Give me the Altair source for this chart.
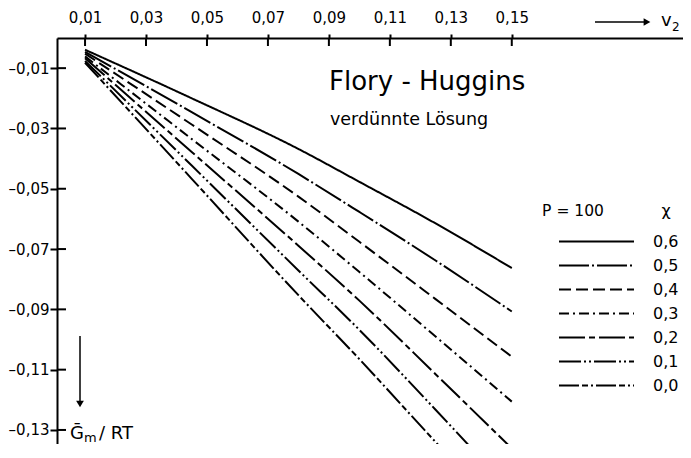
import altair as alt
import pandas as pd

# ---- data ----
v2 = [0.01, 0.045, 0.08, 0.10, 0.125, 0.15]
chi_labels = ["0,6", "0,5", "0,4", "0,3", "0,2", "0,1", "0,0"]
g_06 = [-0.0039, -0.0200, -0.0368, -0.0477, -0.0615, -0.0763]
g_05 = [-0.0046, -0.0246, -0.0451, -0.0577, -0.0738, -0.0907]
g_04 = [-0.0052, -0.0287, -0.0526, -0.0676, -0.0866, -0.1057]
g_03 = [-0.0061, -0.0335, -0.0609, -0.0776, -0.0990, -0.1206]
g_02 = [-0.0067, -0.0378, -0.0689, -0.0871, -0.1115, -0.1361]
g_01 = [-0.0076, -0.0423, -0.0771, -0.0968, -0.1233, -0.1505]
g_00 = [-0.0082, -0.0467, -0.0853, -0.1065, -0.1340, -0.1610]
x_ticks = [0.01, 0.03, 0.05, 0.07, 0.09, 0.11, 0.13, 0.15]
y_ticks = [-0.01, -0.03, -0.05, -0.07, -0.09, -0.11, -0.13]

series = [g_06, g_05, g_04, g_03, g_02, g_01, g_00]
dashes = [[1, 0], [30, 3, 2, 3], [12, 5], [10, 4, 2, 4], [26, 4, 6, 4],
          [22, 3, 2, 3, 2, 3], [20, 3, 6, 3, 2, 3]]

rows = []
for lab, ys in zip(chi_labels, series):
    for x, y in zip(v2, ys):
        rows.append({"chi": lab, "v2": x, "g": y})
df = pd.DataFrame(rows)

FONT = "DejaVu Sans"
W, H = 634, 420
xscale = alt.Scale(domain=[0.0008, 0.2088], nice=False, zero=False)
yscale = alt.Scale(domain=[-0.1393, 0.0], nice=False, zero=False)

xa = alt.Axis(orient="top", values=x_ticks, tickSize=4, labelPadding=9,
              labelExpr="replace(format(datum.value, '.2f'), '.', ',')",
              labelFontSize=15, title=None)
ya = alt.Axis(orient="left", values=y_ticks, tickSize=7, labelPadding=1,
              labelExpr="'\u2013' + replace(format(-datum.value, '.2f'), '.', ',')",
              labelFontSize=15, title=None)

lines = alt.Chart(df).mark_line(clip=True, strokeWidth=2, color="black",
                                interpolate="monotone").encode(
    x=alt.X("v2:Q", scale=xscale, axis=xa),
    y=alt.Y("g:Q", scale=yscale, axis=ya),
    strokeDash=alt.StrokeDash("chi:N", scale=alt.Scale(domain=chi_labels, range=dashes), legend=None),
    detail="chi:N",
)

xt = alt.Chart(pd.DataFrame({"v2": x_ticks})).mark_rule(strokeWidth=2, color="black").encode(
    x=alt.X("v2:Q", scale=xscale, axis=xa), y=alt.value(0), y2=alt.value(8))
yt = alt.Chart(pd.DataFrame({"g": y_ticks})).mark_rule(strokeWidth=2, color="black").encode(
    y=alt.Y("g:Q", scale=yscale, axis=ya), x=alt.value(0), x2=alt.value(9))

one = pd.DataFrame({"a": [0]})
layers = [lines, xt, yt]

# legend
for i, (lab, d) in enumerate(zip(chi_labels, dashes)):
    yy = 203.5 + i * 24
    layers.append(alt.Chart(one).mark_rule(strokeWidth=2, color="black", strokeDash=d).encode(
        x=alt.value(502), x2=alt.value(577), y=alt.value(yy)))
    layers.append(alt.Chart(one).mark_text(text=lab, font=FONT, fontSize=16, align="left",
                                           baseline="middle", color="black").encode(
        x=alt.value(596), y=alt.value(yy)))

def txt(s, x, y, size, align="left", baseline="alphabetic"):
    return alt.Chart(one).mark_text(text=s, font=FONT, fontSize=size, align=align,
                                    baseline=baseline, color="black").encode(
        x=alt.value(x), y=alt.value(y))

layers += [
    txt("P = 100", 516, 173, 15.5, "center", "middle"),
    txt("χ", 609, 173, 16, "center", "middle"),
    txt("Flory - Huggins", 272, 52, 26),
    txt("verdünnte Lösung", 273, 87, 17.5),
    txt("Ḡ", 13, 401, 18),
    txt("m", 27, 404, 13),
    txt("/ RT", 42, 401, 18),
    txt("v", 604, -12, 18),
    txt("2", 615, -7, 12),
]
# arrows
layers.append(alt.Chart(one).mark_rule(strokeWidth=1.5, color="black").encode(
    x=alt.value(538), x2=alt.value(588), y=alt.value(-16)))
layers.append(alt.Chart(one).mark_point(shape="triangle-right", filled=True, size=60,
                                        color="black", opacity=1).encode(
    x=alt.value(590), y=alt.value(-16)))
layers.append(alt.Chart(one).mark_rule(strokeWidth=1.5, color="black").encode(
    x=alt.value(23), y=alt.value(298), y2=alt.value(364)))
layers.append(alt.Chart(one).mark_point(shape="triangle-down", filled=True, size=60,
                                        color="black", opacity=1).encode(
    x=alt.value(23), y=alt.value(366)))

chart = alt.layer(*layers).properties(
    width=W, height=H,
    autosize=alt.AutoSizeParams(type="none"),
    padding={"left": 49, "top": 30, "right": -8, "bottom": -14},
).configure_view(stroke=None).configure_axis(
    domainColor="black", domainWidth=2, tickColor="black", tickWidth=2,
    labelFont=FONT, labelColor="black", grid=False,
)

chart.save("out.html", embed_options={"renderer": "svg", "actions": False})
